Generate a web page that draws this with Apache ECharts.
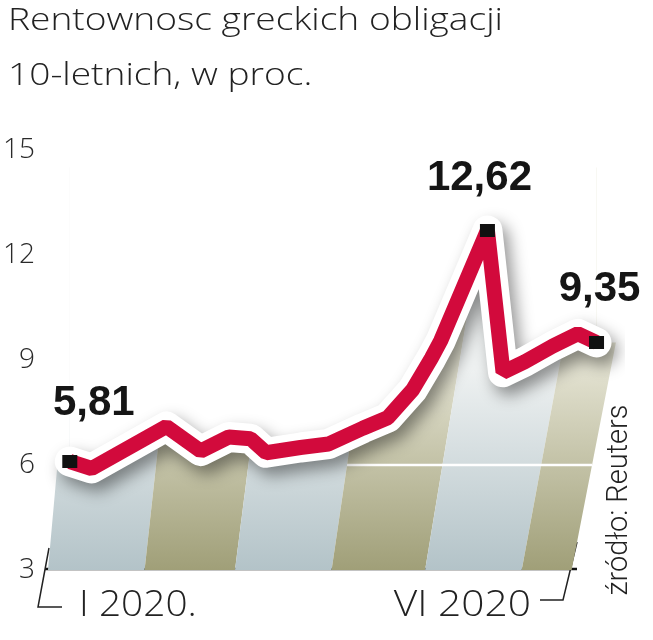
<!DOCTYPE html>
<html><head><meta charset="utf-8">
<script src="https://cdn.jsdelivr.net/npm/echarts@6/dist/echarts.min.js"></script>
<style>html,body{margin:0;padding:0;background:#fff}#c{width:653px;height:640px}</style>
</head><body><div id="c"></div>
<script>
// ---- data ----
const dates = ['2020-01-08','2020-01-15','2020-02-08','2020-02-19','2020-02-28','2020-03-06','2020-03-11','2020-03-22','2020-03-31','2020-04-11','2020-04-19','2020-04-27','2020-05-03','2020-05-06','2020-05-21','2020-05-26','2020-06-02','2020-06-11','2020-06-19','2020-06-25'];
const yields = [6.1, 5.9, 7.1, 6.4, 6.8, 6.75, 6.35, 6.5, 6.6, 7.05, 7.35, 8.15, 9.05, 9.55, 12.7, 8.65, 8.95, 9.4, 9.75, 9.5];
const markedIndex = [0, 14, 19];
const markedText = ['5,81', '12,62', '9,35'];
const bandStarts = ['2020-01-01','2020-02-01','2020-03-01','2020-04-01','2020-05-01','2020-06-01'];
const bandEnds = ['2020-02-01','2020-03-01','2020-04-01','2020-05-01','2020-06-01','2020-06-17'];
const yTicks = [3, 6, 9, 12, 15];
const gridValue = [6];
const gridFrom = '2020-04-01';
const axisStart = '2020-01-01', axisEnd = '2020-06-29';
const titleLines = ['Rentownosc greckich obligacji', '10-letnich, w proc.'];
const periodLabels = ['I 2020.', 'VI 2020'];
const sourceText = 'źródło: Reuters';

// ---- helpers ----
function ts(s){ const p = s.split('-').map(Number); return new Date(p[0], p[1]-1, p[2]).getTime(); }
const lineData = dates.map((d,i)=>[ts(d), yields[i]]);
const firstPt = lineData[0], lastPt = lineData[lineData.length-1];
const TOPV = 14.5;
let originX = null;
function skewAt(x){ return 0.09 + 0.0002 * (x - originX); }
const bandCols = [
  ['#b3c3c8','#eef1f1'],
  ['#a09f78','#e2e1d0']
];
const FONT = '"Open Sans", Roboto, sans-serif';

const chart = echarts.init(document.getElementById('c'), null, {renderer:'canvas'});

const redData = lineData.map((v,i)=>{
  const k = markedIndex.indexOf(i);
  if (k < 0) return {value: v, symbol: 'none'};
  const offs = [[24,-58],[-8,-52],[3,-53]][k];
  return {value: v, symbol: 'rect', symbolSize: [15,13],
    label: {show: true, formatter: markedText[k], position: 'inside', offset: offs,
      fontFamily: 'Liberation Sans', fontWeight: 'bold', fontSize: 42, color: '#151515'}};
});

chart.setOption({
  animation: false,
  backgroundColor: '#fff',
  grid: {left: 46, right: 44, top: 150, bottom: 70, containLabel: false},
  xAxis: {type: 'time', min: ts(axisStart), max: ts(axisEnd),
    axisLine:{show:false}, axisTick:{show:false}, axisLabel:{show:false}, splitLine:{show:false}},
  yAxis: {type: 'value', min: yTicks[0], max: yTicks[yTicks.length-1], interval: 3,
    axisLine:{show:false}, axisTick:{show:false}, splitLine:{show:false},
    axisLabel:{margin: 13, fontFamily: FONT, fontWeight: 300, fontSize: 28, color:'#2a2a2a',
      formatter: v => yTicks.indexOf(v) >= 0 ? String(v) : ''}},
  series: [
    {
      type: 'custom', z: 1, silent: true, clip: false,
      data: bandStarts.map((s,i)=>[ts(s), ts(bandEnds[i])]),
      renderItem: function(params, api){
        const i = params.dataIndex;
        const bl = api.coord([api.value(0), 3]);
        const br = api.coord([api.value(1), 3]);
        if (originX === null) originX = api.coord([ts(bandStarts[0]), 3])[0];
        const yTop = api.coord([api.value(0), TOPV])[1];
        const dyTop = bl[1] - yTop;
        const tl = [bl[0] + skewAt(bl[0]) * dyTop, yTop];
        const tr = [br[0] + skewAt(br[0]) * dyTop, yTop];
        let pts = [bl, br, tr, tl];
        const fp = api.coord(firstPt), lp = api.coord(lastPt);
        if (i === 0) {
          const dyF = bl[1] - fp[1];
          const tlF = [bl[0] + skewAt(bl[0]) * dyF, fp[1]];
          pts = [bl, br, tr, [fp[0], yTop], fp, tlF];
        }
        if (i === bandStarts.length - 1) {
          const dyL = br[1] - lp[1];
          const trL = [br[0] + skewAt(br[0]) * dyL, lp[1]];
          pts = [bl, br, trL, lp, [lp[0], yTop], tl];
        }
        const c = bandCols[i % 2];
        const fill = new echarts.graphic.LinearGradient(0, bl[1], 0, bl[1] - 200,
          [{offset:0, color:c[0]}, {offset:1, color:c[1]}], true);
        return {type:'polygon', shape:{points: pts}, style:{fill: fill}};
      }
    },
    {
      type: 'custom', z: 2, silent: true, clip: false,
      data: gridValue.map(v=>[v]),
      renderItem: function(params, api){
        const v = api.value(0);
        const b0 = api.coord([ts(gridFrom), 3]);
        const b1 = api.coord([ts(bandEnds[bandEnds.length-1]), 3]);
        const y = api.coord([ts(gridFrom), v])[1];
        if (originX === null) originX = api.coord([ts(bandStarts[0]), 3])[0];
        const x1 = b0[0] + skewAt(b0[0]) * (b0[1] - y);
        const x2 = b1[0] + skewAt(b1[0]) * (b1[1] - y);
        return {type:'line', shape:{x1:x1, y1:y, x2:x2, y2:y}, style:{stroke:'#ffffff', lineWidth: 2.5}};
      }
    },
    {
      type: 'line', z: 3, silent: true, clip: false, symbol: 'none',
      data: lineData,
      lineStyle: {color:'#ffffff', width: 30, join:'round', cap:'round',
        shadowColor:'rgba(0,0,0,0.42)', shadowBlur: 16, shadowOffsetX: 6, shadowOffsetY: 8},
      areaStyle: {color:'#ffffff', opacity: 1, origin: 'end'}
    },
    {
      type: 'line', z: 4, silent: true, clip: false, showAllSymbol: true,
      data: redData,
      itemStyle: {color:'#111111'},
      lineStyle: {color:'#d20a3c', width: 15}
    }
  ],
  graphic: [
    {type:'text', x: 8, y: 4.5, scaleX: 1.16, style:{text: titleLines[0], font: '300 32px ' + FONT, fill:'#222', verticalAlign:'top'}},
    {type:'text', x: 8, y: 60, scaleX: 1.16, style:{text: titleLines[1], font: '300 32px ' + FONT, fill:'#222', verticalAlign:'top'}},
    {type:'line', shape:{x1:45, y1:569, x2:577, y2:569}, style:{stroke:'#111', lineWidth: 2.5}},
    {type:'polyline', shape:{points:[[49,548],[38,607],[62,607]]}, style:{stroke:'#222', lineWidth: 1.5, fill: null}},
    {type:'polyline', shape:{points:[[577,542],[563,600],[540,600]]}, style:{stroke:'#222', lineWidth: 1.5, fill: null}},
    {type:'text', x: 79, y: 605, scaleX: 1.05, style:{text: periodLabels[0], font:'300 37px ' + FONT, fill:'#222', verticalAlign:'middle', align:'left'}},
    {type:'text', x: 531, y: 605, scaleX: 1.1, style:{text: periodLabels[1], font:'300 37px ' + FONT, fill:'#222', verticalAlign:'middle', align:'right'}},
    {type:'text', x: 620, y: 500, rotation: Math.PI/2, style:{text: sourceText, font:'300 29px Roboto', fill:'#222', verticalAlign:'middle', align:'center'}}
  ]
});
</script></body></html>
